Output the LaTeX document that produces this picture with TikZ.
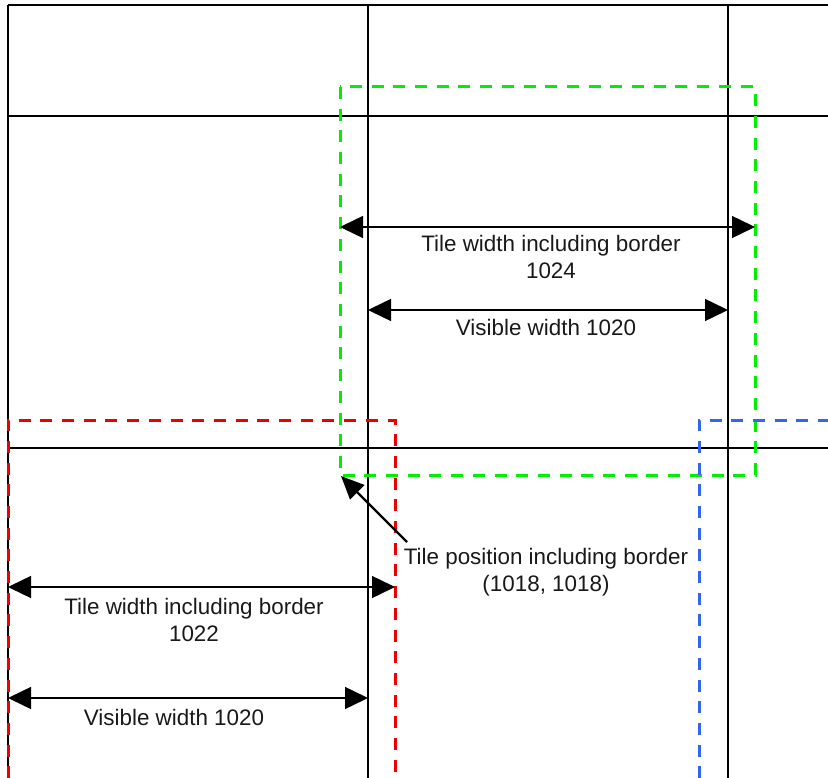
\documentclass[tikz,border=0pt]{standalone}
\usepackage{fontspec}
\setmainfont{Liberation Sans}
\usetikzlibrary{arrows.meta}
\definecolor{tgreen}{RGB}{0,238,0}
\definecolor{tred}{RGB}{238,0,0}
\definecolor{tblue}{RGB}{51,102,238}
\begin{document}
\begin{tikzpicture}[x=1pt,y=-1pt,
  gridline/.style={draw=black, line width=1.3pt},
  tilebox/.style={line width=3pt, dash pattern=on 12pt off 9.7pt},
  dimarrow/.style={draw=black, line width=1.4pt, {Triangle[length=23pt,width=22pt]}-{Triangle[length=23pt,width=22pt]}},
  ptrarrow/.style={draw=black, line width=2.2pt, -{Triangle[length=23pt,width=20pt]}},
  lbl/.style={font=\fontsize{22.4}{27}\selectfont, align=center, inner sep=0pt, text=black!90}
]
\useasboundingbox (0,0) rectangle (828,778);
\begin{scope}
\clip (0,0) rectangle (828,778);
% grid
\draw[gridline] (8,5) -- (840,5);
\draw[gridline] (8,116) -- (840,116);
\draw[gridline] (8,448) -- (840,448);
\draw[gridline] (8,5) -- (8,790);
\draw[gridline] (368,5) -- (368,790);
\draw[gridline] (728,5) -- (728,790);
% tiles
\draw[tilebox, tgreen] (340,87) rectangle (755,475);
\draw[tilebox, tred] (8,800) -- (8,420) -- (395,420) -- (395,800);
\draw[tilebox, tblue] (699,800) -- (699,420) -- (850,420);
\end{scope}
% dimension endpoints
\coordinate (gL) at (340,227);
\coordinate (gR) at (755,227);
\coordinate (vL) at (368,310);
\coordinate (vR) at (728,310);
\coordinate (rL) at (8,587);
\coordinate (rR) at (395,587);
\coordinate (rvL) at (8,698);
\coordinate (rvR) at (368,698);
\coordinate (corner) at (341,476);
\draw[dimarrow] (gL) -- (gR);
\draw[dimarrow] (vL) -- (vR);
\draw[dimarrow] (rL) -- (rR);
\draw[dimarrow] (rvL) -- (rvR);
% labels
\node[lbl] (gtxt) at (551,257) {Tile width including border\\1024};
\node[lbl] (vtxt) at (546,327) {Visible width 1020};
\node[lbl] (rtxt) at (194,620) {Tile width including border\\1022};
\node[lbl] (rvtxt) at (174,717) {Visible width 1020};
\node[lbl] (ptxt) at (546,572) {Tile position including border\\(1018, 1018)};
\coordinate (ptail) at (407,542);
\draw[ptrarrow] (ptail) -- (corner);
\end{tikzpicture}
\end{document}
